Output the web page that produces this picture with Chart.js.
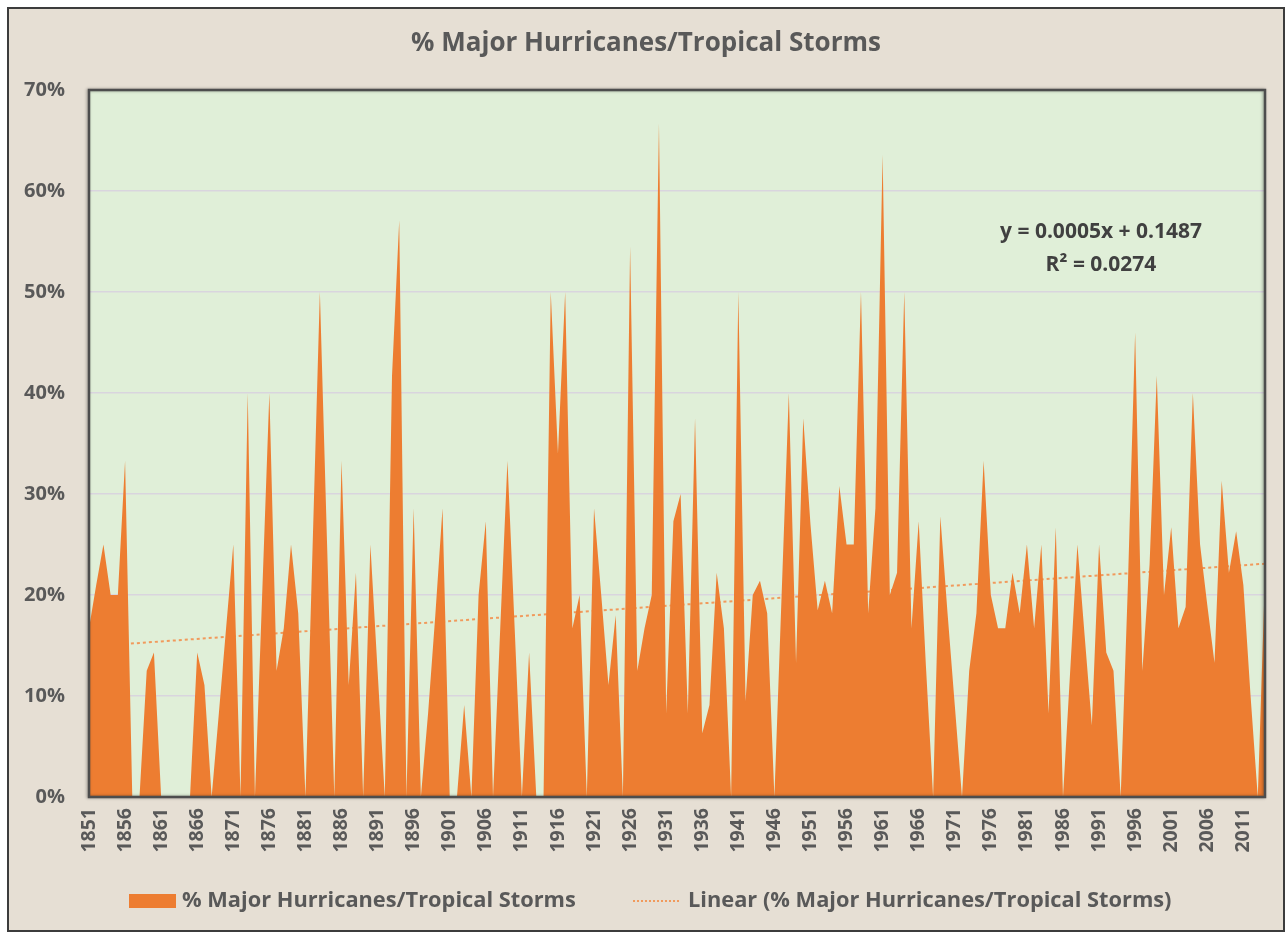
<!DOCTYPE html>
<html><head><meta charset="utf-8">
<script src="https://cdn.jsdelivr.net/npm/chart.js@4.4.1/dist/chart.umd.min.js"></script>
<style>
html,body{margin:0;padding:0;background:#ffffff;width:1285px;height:932px;overflow:hidden}
#frame{position:absolute;left:7px;top:7px;width:1274px;height:921px;border:2px solid #3c3c3c;background:#e6dfd4}
#wrap{position:absolute;left:0;top:0;width:1285px;height:932px}
</style></head><body>
<div id="frame"></div>
<div id="wrap"><canvas id="c" width="1285" height="932"></canvas></div>
<script>
const years = [
 1851,1852,1853,1854,1855,1856,1857,1858,1859,1860,
 1861,1862,1863,1864,1865,1866,1867,1868,1869,1870,
 1871,1872,1873,1874,1875,1876,1877,1878,1879,1880,
 1881,1882,1883,1884,1885,1886,1887,1888,1889,1890,
 1891,1892,1893,1894,1895,1896,1897,1898,1899,1900,
 1901,1902,1903,1904,1905,1906,1907,1908,1909,1910,
 1911,1912,1913,1914,1915,1916,1917,1918,1919,1920,
 1921,1922,1923,1924,1925,1926,1927,1928,1929,1930,
 1931,1932,1933,1934,1935,1936,1937,1938,1939,1940,
 1941,1942,1943,1944,1945,1946,1947,1948,1949,1950,
 1951,1952,1953,1954,1955,1956,1957,1958,1959,1960,
 1961,1962,1963,1964,1965,1966,1967,1968,1969,1970,
 1971,1972,1973,1974,1975,1976,1977,1978,1979,1980,
 1981,1982,1983,1984,1985,1986,1987,1988,1989,1990,
 1991,1992,1993,1994,1995,1996,1997,1998,1999,2000,
 2001,2002,2003,2004,2005,2006,2007,2008,2009,2010,
 2011,2012,2013,2014
];
// % of tropical storms that became major hurricanes (percent)
const pctMajor = [
 16.7,21,25,20,20,33.3,0,0,12.5,14.3,
 0,0,0,0,0,14.3,11.1,0,8.3,16.7,
 25,0,40,0,20,40,12.5,16.7,25,18.2,
 0,25,50,25,0,33.3,11.1,22.2,0,25,
 12.5,0,41.7,57.1,0,28.6,0,8.3,18,28.6,
 0,0,9.1,0,20,27.3,0,16.7,33.3,16.7,
 0,14.3,0,0,50,34,50,16.7,20,0,
 28.6,20,11.1,18,0,54.5,12.5,16.7,20,66.7,
 8.3,27.3,30,8.3,37.5,6.3,9.1,22.2,16.7,0,
 50,9.5,20,21.4,18.2,0,20,40,13.3,37.5,
 27,18.5,21.4,18.2,30.8,25,25,50,18.2,28.6,
 63.6,20,22.2,50,16.7,27.3,13,0,27.8,18.2,
 9.1,0,12.5,18.2,33.3,20,16.7,16.7,22.2,18.2,
 25,16.7,25,8.3,26.7,0,12.5,25,16,7.1,
 25,14.3,12.5,0,21.1,46,12.5,23,41.7,20,
 26.7,16.7,18.8,40,25,19,13.3,31.3,22.2,26.3,
 21,10,0,22
];
// linear trendline end points (first and last year), percent
const trendEnds = [14.9, 23.1];
const tickEvery = 5;
const yMin = 0, yMax = 70, yStep = 10;
const titleText = '% Major Hurricanes/Tropical Storms';
const seriesName = '% Major Hurricanes/Tropical Storms';
const trendName = 'Linear (% Major Hurricanes/Tropical Storms)';
const eqLines = ['y = 0.0005x + 0.1487', 'R\u00B2 = 0.0274'];

const ORANGE = '#ED7D31';
const TREND = '#F19A5C';
const TXT = '#595959';
const FONT = "'Open Sans', 'DejaVu Sans', sans-serif";

const trendData = years.map((y, i) => i === 0 ? trendEnds[0] : (i === years.length - 1 ? trendEnds[1] : null));

const decor = {
  id: 'decor',
  beforeDraw(chart) {
    const {ctx, chartArea: a} = chart;
    ctx.save();
    ctx.fillStyle = '#e0efd8';
    ctx.fillRect(a.left, a.top, a.right - a.left, a.bottom - a.top);
    ctx.restore();
  },
  afterDraw(chart) {
    const {ctx, chartArea: a} = chart;
    ctx.save();
    ctx.shadowColor = 'rgba(0,0,0,0.35)';
    ctx.shadowBlur = 3;
    ctx.shadowOffsetX = -1;
    ctx.shadowOffsetY = 0;
    ctx.strokeStyle = '#4d4d4d';
    ctx.lineWidth = 2.5;
    ctx.strokeRect(a.left, a.top, a.right - a.left, a.bottom - a.top);
    ctx.restore();

    ctx.save();
    ctx.fillStyle = TXT;
    ctx.textBaseline = 'middle';
    ctx.font = 'bold 26px ' + FONT;
    ctx.textAlign = 'center';
    ctx.fillText(titleText, 646, 44);
    ctx.fillStyle = '#404040';
    ctx.font = 'bold 21px ' + FONT;
    ctx.fillText(eqLines[0], 1101, 232);
    ctx.fillText(eqLines[1], 1101, 265);
    ctx.fillStyle = ORANGE;
    ctx.fillRect(129, 894, 47, 14);
    ctx.fillStyle = TXT;
    ctx.textAlign = 'left';
    ctx.font = 'bold 21.8px ' + FONT;
    ctx.fillText(seriesName, 182, 901);
    ctx.strokeStyle = TREND;
    ctx.lineWidth = 2;
    ctx.setLineDash([2, 2]);
    ctx.beginPath();
    ctx.moveTo(633, 901);
    ctx.lineTo(679, 901);
    ctx.stroke();
    ctx.setLineDash([]);
    ctx.fillText(trendName, 688, 901);
    ctx.restore();
  }
};

new Chart(document.getElementById('c'), {
  type: 'line',
  data: {
    labels: years,
    datasets: [
      {
        label: seriesName,
        data: pctMajor,
        fill: 'origin',
        backgroundColor: ORANGE,
        borderColor: ORANGE,
        borderWidth: 0,
        pointRadius: 0,
        tension: 0,
        order: 1
      },
      {
        label: trendName,
        data: trendData,
        spanGaps: true,
        fill: false,
        borderColor: TREND,
        borderWidth: 2,
        borderDash: [3, 3],
        pointRadius: 0,
        order: 2
      }
    ]
  },
  options: {
    responsive: false,
    animation: false,
    devicePixelRatio: 1,
    layout: { padding: { left: 0, top: 90, right: 20, bottom: 0 } },
    plugins: {
      legend: { display: false },
      title: { display: false },
      tooltip: { enabled: false }
    },
    scales: {
      x: {
        type: 'category',
        offset: false,
        grid: { display: false, drawTicks: false },
        border: { display: false },
        ticks: {
          autoSkip: false,
          minRotation: 90,
          maxRotation: 90,
          padding: 11,
          color: TXT,
          font: { family: FONT, size: 19.5, weight: 'bold' },
          callback: function (v, i) { return i % tickEvery === 0 ? String(years[i]) : ''; }
        },
        afterFit(s) { s.height = 135; s.paddingLeft = 0; s.paddingRight = 0; }
      },
      y: {
        min: yMin,
        max: yMax,
        grid: { color: '#d9d5de', lineWidth: 1.5, drawTicks: false },
        border: { display: false },
        ticks: {
          stepSize: yStep,
          padding: 24,
          color: TXT,
          font: { family: FONT, size: 20, weight: 'bold' },
          callback: v => v + '%'
        },
        afterFit(s) { s.width = 89; s.paddingTop = 0; s.paddingBottom = 0; }
      }
    }
  },
  plugins: [decor]
});
</script>
</body></html>
